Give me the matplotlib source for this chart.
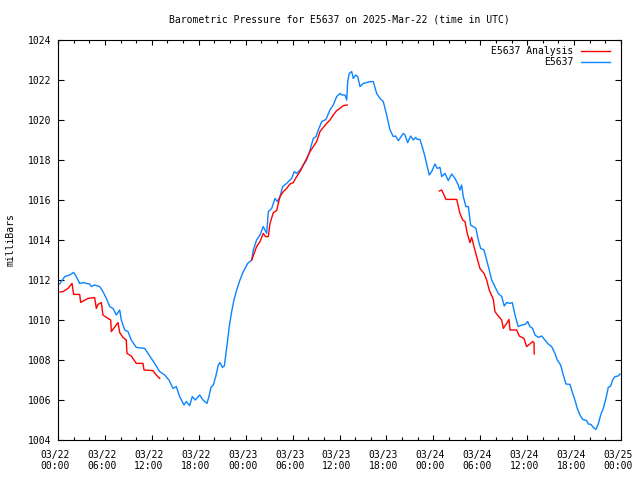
import numpy as np
import matplotlib
matplotlib.use("Agg")
import matplotlib.pyplot as plt
import matplotlib.transforms as mtransforms

plt.rcParams['font.family'] = ['DejaVu Sans Mono', 'DejaVu Sans']

title = "Barometric Pressure for E5637 on 2025-Mar-22 (time in UTC)"
ylabel = "milliBars"
station_label = "E5637"
analysis_label = "E5637 Analysis"

# hours since 2025-03-22 00:00 UTC
station_hours = [0.0, 0.2, 0.86, 1.5, 2.0, 2.34, 2.77, 3.2, 4.05, 4.26, 4.69, 5.33, 5.75, 6.18, 6.61,
                 7.03, 7.46, 7.89, 8.09, 8.53, 8.95, 9.37, 10.01, 11.09, 11.93, 12.37, 13.0, 13.64,
                 14.19, 14.71, 15.13, 15.56, 16.11, 16.41, 16.84, 17.17, 17.56, 18.12, 18.54, 19.05,
                 19.3, 19.56, 19.86, 20.17, 20.5, 20.72, 21.02, 21.27, 21.45, 21.7, 21.9, 22.21, 22.5,
                 22.85, 23.27, 23.7, 24.26, 24.77, 24.98, 25.4, 25.83, 26.25, 26.68, 26.9, 27.33,
                 27.75, 28.05, 28.39, 28.73, 29.24, 29.88, 30.22, 30.52, 30.95, 31.37, 31.8, 32.23,
                 32.65, 32.99, 33.29, 33.72, 34.27, 34.78, 35.2, 35.64, 36.06, 36.36, 36.7, 36.92,
                 37.05, 37.25, 37.56, 37.76, 38.07, 38.33, 38.62, 39.04, 39.9, 40.32, 40.75, 41.18,
                 41.6, 42.03, 42.46, 42.88, 43.18, 43.52, 43.82, 44.16, 44.37, 44.72, 45.1, 45.44,
                 45.74, 45.95, 46.29, 46.64, 46.93, 47.22, 47.48, 47.79, 48.21, 48.5, 48.85, 49.07,
                 49.49, 49.91, 50.34, 50.77, 51.19, 51.4, 51.62, 51.83, 52.17, 52.47, 52.77, 53.1,
                 53.45, 53.75, 54.05, 54.48, 54.82, 55.15, 55.46, 55.88, 56.3, 56.74, 57.07, 57.38,
                 57.8, 58.1, 58.44, 58.86, 59.3, 59.72, 60.06, 60.36, 60.7, 61.0, 61.42, 61.85,
                 62.28, 62.7, 63.13, 63.55, 63.85, 64.28, 64.62, 64.96, 65.47, 65.82, 66.11, 66.41,
                 66.75, 67.1, 67.61, 67.82, 68.16, 68.45, 68.8, 69.1, 69.4, 69.73, 70.08, 70.37,
                 70.68, 70.93, 71.23, 71.65, 71.87]
station_mb = [1011.8, 1011.8, 1012.17, 1012.25, 1012.38, 1012.17, 1011.83, 1011.87, 1011.8, 1011.67,
              1011.75, 1011.67, 1011.42, 1011.08, 1010.67, 1010.58, 1010.25, 1010.5, 1010.0, 1009.5,
              1009.42, 1009.0, 1008.63, 1008.58, 1008.08, 1007.83, 1007.42, 1007.25, 1007.0,
              1006.58, 1006.67, 1006.17, 1005.75, 1005.92, 1005.72, 1006.17, 1006.0, 1006.25,
              1006.0, 1005.83, 1006.17, 1006.63, 1006.75, 1007.17, 1007.75, 1007.87, 1007.63,
              1007.7, 1008.25, 1009.0, 1009.67, 1010.42, 1011.0, 1011.5, 1012.0, 1012.42, 1012.83,
              1013.0, 1013.5, 1014.0, 1014.25, 1014.67, 1014.33, 1015.42, 1015.58, 1016.08,
              1015.92, 1016.17, 1016.67, 1016.83, 1017.08, 1017.42, 1017.33, 1017.5, 1017.75,
              1018.0, 1018.5, 1019.08, 1019.17, 1019.5, 1019.92, 1020.03, 1020.5, 1020.75,
              1021.17, 1021.33, 1021.25, 1021.25, 1021.0, 1021.92, 1022.33, 1022.42, 1022.08,
              1022.25, 1022.17, 1021.67, 1021.83, 1021.92, 1021.92, 1021.33, 1021.08, 1020.92,
              1020.25, 1019.5, 1019.17, 1019.2, 1018.97, 1019.13, 1019.33, 1019.25, 1018.87,
              1019.2, 1019.0, 1019.13, 1019.03, 1019.03, 1018.58, 1018.17, 1017.67, 1017.25,
              1017.42, 1017.8, 1017.58, 1017.63, 1017.17, 1017.33, 1016.97, 1017.3, 1017.08,
              1016.75, 1016.5, 1016.75, 1016.17, 1015.67, 1015.67, 1014.75, 1014.67, 1014.58,
              1014.0, 1013.58, 1013.5, 1013.0, 1012.5, 1012.0, 1011.67, 1011.33, 1011.17, 1010.7,
              1010.87, 1010.83, 1010.87, 1010.25, 1009.67, 1009.75, 1009.78, 1009.92, 1009.67,
              1009.58, 1009.25, 1009.13, 1009.2, 1009.0, 1008.8, 1008.67, 1008.33, 1008.0,
              1007.75, 1007.25, 1006.8, 1006.78, 1006.33, 1006.0, 1005.58, 1005.25, 1005.03,
              1004.97, 1004.8, 1004.78, 1004.63, 1004.53, 1004.8, 1005.25, 1005.58, 1006.08,
              1006.63, 1006.7, 1007.0, 1007.17, 1007.2, 1007.3]

analysis_hours_1 = [0.26, 0.64, 1.28, 1.79, 2.0, 2.77, 2.9, 3.84, 4.69, 4.9, 5.12, 5.54, 5.75, 6.39,
                    6.74, 6.82, 7.67, 7.89, 8.31, 8.73, 8.82, 9.37, 10.01, 10.87, 11.0, 12.15, 12.57,
                    13.0]
analysis_mb_1 = [1011.4, 1011.42, 1011.58, 1011.83, 1011.28, 1011.28, 1010.88, 1011.08, 1011.12,
                 1010.58, 1010.78, 1010.87, 1010.25, 1010.08, 1010.0, 1009.42, 1009.87, 1009.37,
                 1009.13, 1009.0, 1008.33, 1008.2, 1007.83, 1007.83, 1007.5, 1007.47, 1007.25,
                 1007.08]

analysis_hours_2 = [24.77, 25.4, 25.83, 26.25, 26.55, 26.9, 27.11, 27.54, 27.96, 28.39, 28.82, 29.24,
                    29.67, 30.09, 30.52, 30.95, 31.37, 31.8, 32.23, 32.65, 33.08, 33.5, 33.93,
                    34.36, 34.78, 35.2, 35.64, 36.06, 36.48, 36.99]
analysis_mb_2 = [1013.0, 1013.67, 1013.92, 1014.33, 1014.17, 1014.17, 1014.83, 1015.37, 1015.47,
                 1016.17, 1016.42, 1016.58, 1016.8, 1016.87, 1017.17, 1017.42, 1017.75, 1018.08,
                 1018.42, 1018.67, 1018.92, 1019.42, 1019.63, 1019.83, 1020.0, 1020.25, 1020.47,
                 1020.58, 1020.72, 1020.75]

analysis_hours_3 = [48.76, 49.07, 49.62, 50.99, 51.4, 51.75, 52.05, 52.34, 52.69, 52.9, 53.2, 53.54,
                    53.96, 54.48, 54.82, 55.15, 55.67, 55.88, 56.3, 56.74, 56.95, 57.38, 57.67,
                    57.8, 58.66, 58.99, 59.59, 59.93, 60.7, 60.87, 60.9]
analysis_mb_3 = [1016.45, 1016.5, 1016.03, 1016.03, 1015.33, 1015.0, 1014.92, 1014.33, 1013.87,
                 1014.13, 1013.67, 1013.17, 1012.58, 1012.33, 1012.0, 1011.5, 1011.03, 1010.42,
                 1010.2, 1010.0, 1009.58, 1009.83, 1010.03, 1009.5, 1009.5, 1009.2, 1009.08,
                 1008.67, 1008.92, 1008.87, 1008.3]

xtick_hours = [0, 6, 12, 18, 24, 30, 36, 42, 48, 54, 60, 66, 72]
xtick_labels = ["03/22\n00:00", "03/22\n06:00", "03/22\n12:00", "03/22\n18:00",
                "03/23\n00:00", "03/23\n06:00", "03/23\n12:00", "03/23\n18:00",
                "03/24\n00:00", "03/24\n06:00", "03/24\n12:00", "03/24\n18:00",
                "03/25\n00:00"]
yticks = [1004, 1006, 1008, 1010, 1012, 1014, 1016, 1018, 1020, 1022, 1024]

RED = "#ff0000"
BLUE = "#0a84ff"
FS = 7

fig = plt.figure(figsize=(6.4, 4.8), dpi=100)
ax = fig.add_axes([58/640, 40/480, 563/640, 400/480])

ax.plot(station_hours, station_mb, color=BLUE, lw=1.0)
for hx, hy in [(analysis_hours_1, analysis_mb_1), (analysis_hours_2, analysis_mb_2),
               (analysis_hours_3, analysis_mb_3)]:
    ax.plot(hx, hy, color=RED, lw=1.0)

ax.set_xlim(0, 72)
ax.set_ylim(1004, 1024)
ax.set_xticks(xtick_hours)
ax.set_xticklabels(xtick_labels, fontsize=FS, linespacing=1.15)
ax.set_xticks(np.arange(0, 73, 2), minor=True)
ax.set_yticks(yticks)
ax.set_yticklabels([str(v) for v in yticks], fontsize=FS)

ax.tick_params(axis='both', which='both', direction='in', top=True, right=True, width=0.8)
ax.tick_params(axis='y', which='major', length=4.0, pad=4.5)
ax.tick_params(axis='x', which='major', length=3.5, pad=7)
ax.tick_params(axis='x', which='minor', length=2.2)
for s in ax.spines.values():
    s.set_linewidth(0.8)

shift = mtransforms.ScaledTranslation(-3/100, 0, fig.dpi_scale_trans)
for lab in ax.get_xticklabels():
    lab.set_transform(lab.get_transform() + shift)

fig.text(339.5/640, 1 - 19/480, title, ha='center', va='center', fontsize=FS)
fig.text(11/640, 0.5, ylabel, rotation=90, ha='center', va='center', fontsize=FS)

# key (gnuplot style: right-aligned text followed by line sample)
key_rows = [(analysis_label, RED), (station_label, BLUE)]
for i, (lab, col) in enumerate(key_rows):
    yy = (440 - (50.7 + i * 11.5)) / 400
    ax.text((573.5 - 58) / 563, yy, lab, transform=ax.transAxes, ha='right', va='center', fontsize=FS)
    ax.plot([(581 - 58) / 563, (609.5 - 58) / 563], [yy, yy], transform=ax.transAxes,
            color=col, lw=1.0, clip_on=False)

fig.savefig("out.png", dpi=100)
